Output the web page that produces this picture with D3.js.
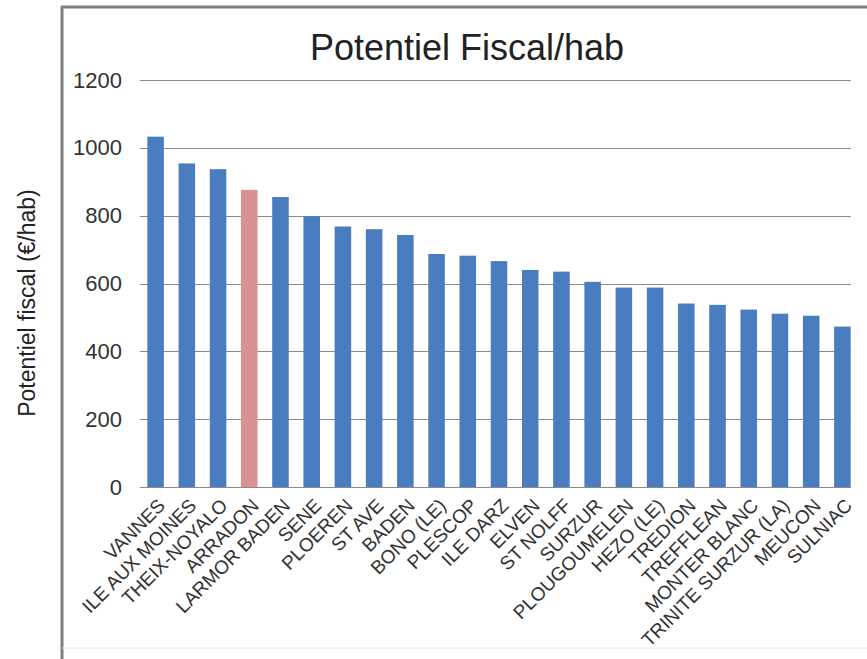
<!DOCTYPE html>
<html><head><meta charset="utf-8">
<script src="https://cdn.jsdelivr.net/npm/d3@7"></script>
<style>body{margin:0;background:#fff}svg{display:block}text{font-family:"Liberation Sans",Arial,sans-serif}</style>
</head><body><svg id="c" width="867" height="659"></svg>
<script>
const categories = ["VANNES","ILE AUX MOINES","THEIX-NOYALO","ARRADON","LARMOR BADEN","SENE","PLOEREN","ST AVE","BADEN","BONO (LE)","PLESCOP","ILE DARZ","ELVEN","ST NOLFF","SURZUR","PLOUGOUMELEN","HEZO (LE)","TREDION","TREFFLEAN","MONTER BLANC","TRINITE SURZUR (LA)","MEUCON","SULNIAC"];
const values = [1033,954,937,876,855,798,768,760,743,687,682,666,640,635,605,588,588,541,537,523,511,505,473];
const highlighted = ["ARRADON"];
const yTicks = [0,200,400,600,800,1000,1200];
const title = "Potentiel Fiscal/hab";
const yTitle = "Potentiel fiscal (€/hab)";

const svg = d3.select("#c");
// frame
svg.append("line").attr("x1",62).attr("y1",7).attr("x2",62).attr("y2",659).attr("stroke","#7f7f7f").attr("stroke-width",3);
svg.append("line").attr("x1",61).attr("y1",7).attr("x2",867).attr("y2",7).attr("stroke","#7f7f7f").attr("stroke-width",3);
svg.append("line").attr("x1",62).attr("y1",648).attr("x2",867).attr("y2",648).attr("stroke","#e6e6e6").attr("stroke-width",1);

const x = d3.scaleBand().domain(categories).range([140,858]).paddingInner(0.47).paddingOuter(0.235);
const y = d3.scaleLinear().domain([0,1200]).range([487,80]);

// gridlines
svg.append("g").selectAll("line").data(yTicks).join("line")
  .attr("x1",140).attr("x2",851).attr("y1",d=>Math.round(y(d))+0.5).attr("y2",d=>Math.round(y(d))+0.5)
  .attr("stroke","#8a8a8a").attr("stroke-width",1.2);

// y axis labels
const ya = svg.append("g").attr("transform","translate(122,0)")
  .call(d3.axisLeft(y).tickValues(yTicks).tickFormat(d3.format("d")).tickSize(0).tickPadding(0));
ya.select(".domain").remove();
ya.selectAll("text").attr("font-size",22).attr("fill","#333").attr("font-family","Liberation Sans, Arial, sans-serif");

// bars
svg.append("g").selectAll("rect").data(categories).join("rect")
  .attr("x",d=>x(d)).attr("width",x.bandwidth())
  .attr("y",(d,i)=>y(values[i])).attr("height",(d,i)=>y(0)-y(values[i]))
  .attr("fill",d=>highlighted.includes(d)?"#d99191":"#4a7cc0");

// x axis labels
const xa = svg.append("g").attr("transform","translate(0,487)")
  .call(d3.axisBottom(x).tickSize(0).tickPadding(0));
xa.select(".domain").remove();
xa.selectAll("text").attr("font-size",19).attr("fill","#333")
  .attr("font-family","Liberation Sans, Arial, sans-serif")
  .attr("text-anchor","end").attr("dy","0.35em")
  .attr("transform","translate(6,15) rotate(-45)");

// title
svg.append("text").attr("x",467).attr("y",60).attr("text-anchor","middle")
  .attr("font-size",36).attr("fill","#222").text(title);
// y title
svg.append("text").attr("transform","translate(35,303) rotate(-90)").attr("text-anchor","middle")
  .attr("font-size",23).attr("fill","#222").text(yTitle);
</script></body></html>
